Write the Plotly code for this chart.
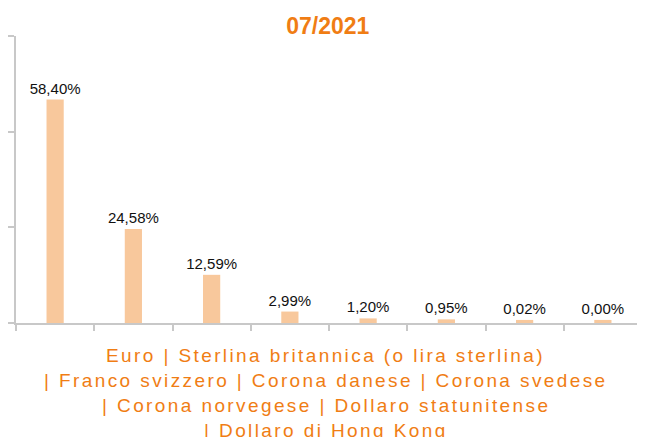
import plotly.graph_objects as go

categories = ["Euro", "Sterlina britannica (o lira sterlina)", "Franco svizzero",
              "Corona danese", "Corona svedese", "Corona norvegese",
              "Dollaro statunitense", "Dollaro di Hong Kong"]
values = [58.40, 24.58, 12.59, 2.99, 1.20, 0.95, 0.02, 0.00]
title = "07/2021"

# minimum visible bar height (the original chart shows a stub for tiny values)
min_visible = 0.8
display = [max(v, min_visible) for v in values]
labels = [f"{v:.2f}".replace(".", ",") + "%" for v in values]

orange = "#F07D14"
bar_color = "#F8C89C"
axis_gray = "#C8C8C8"

fig = go.Figure(go.Bar(
    x=categories, y=display, text=labels, textposition="outside",
    constraintext="none",
    textfont=dict(family="Liberation Sans, Arial", size=15, color="#111111"),
    marker=dict(color=bar_color, line=dict(width=0)),
    width=0.22, cliponaxis=False, hoverinfo="skip",
))

# axis title built from the category names
parts = [categories[0] + " | " + categories[1],
         "| " + categories[2] + " | " + categories[3] + " | " + categories[4],
         "| " + categories[5] + " | " + categories[6],
         "| " + categories[7]]
for i, line in enumerate(parts):
    fig.add_annotation(text=f'<span style="letter-spacing:2.4px">{line}</span>',
                       xref="paper", yref="paper", x=0.495, y=0,
                       yshift=-32 - 25 * i, showarrow=False, yanchor="middle",
                       font=dict(family="Liberation Sans, Arial", size=19, color=orange))

fig.update_layout(
    width=637, height=429,
    margin=dict(l=8, r=3, t=28, b=114),
    paper_bgcolor="white", plot_bgcolor="white",
    title=dict(text=f"<b>{title}</b>", x=0.502, xanchor="center", y=1 - 18 / 429, yanchor="middle",
               font=dict(family="Liberation Sans, Arial", size=23, color=orange)),
    showlegend=False,
    xaxis=dict(showticklabels=False, showline=True, linecolor=axis_gray, linewidth=2,
               ticks="outside", tickson="boundaries", ticklen=6, tickcolor=axis_gray,
               tickwidth=2, showgrid=False, zeroline=False),
    yaxis=dict(range=[0, 75], dtick=25, showticklabels=False, showline=True,
               linecolor=axis_gray, linewidth=2, ticks="outside", ticklen=6,
               tickcolor=axis_gray, tickwidth=2, showgrid=False, zeroline=False),
)

fig.write_html("out.html")
